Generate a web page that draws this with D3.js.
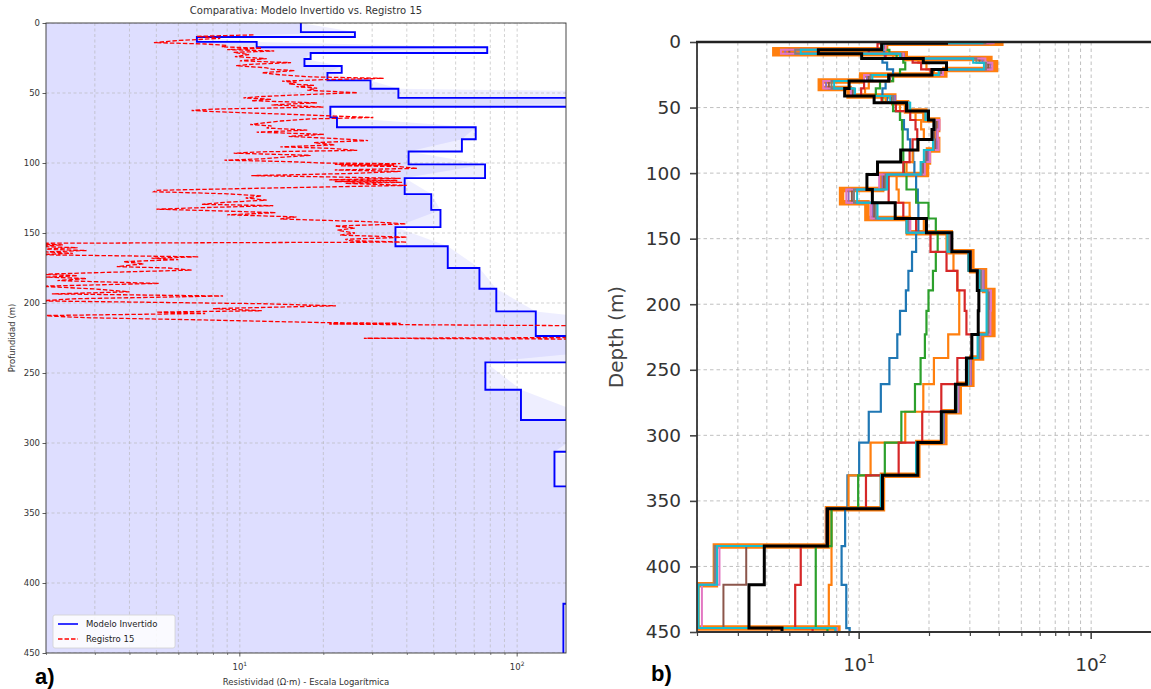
<!DOCTYPE html>
<html>
<head>
<meta charset="utf-8">
<script src="https://cdn.jsdelivr.net/npm/d3@7"></script>
<style>
  body { margin: 0; background: #fff; }
  svg { display: block; }
  text { font-family: "DejaVu Sans", sans-serif; }
</style>
</head>
<body>
<svg id="fig" width="1151" height="689"></svg>
<script>
// ---- panel a: inverted model (layer tops in m, resistivity in ohm-m) ----
var modelTops = [0, 6.5, 10, 13.5, 17.3, 21.4, 25.7, 30.7, 35.6, 41, 47, 53.5, 59.8, 67.4, 74.5, 83, 91.8,
                 101, 110.8, 122.2, 133.5, 145.8, 159.5, 175, 189.8, 206, 223.6, 242.4, 262, 283.6, 306.2, 331, 414.8];
var modelRho = [16.6, 26, 7.0, 11.5, 78, 18.0, 17.1, 23.3, 20.7, 29.6, 37.3, 20000, 21.2, 22.4, 70.9, 63.2, 40.6,
                76.6, 39.3, 49.0, 52.9, 36.4, 56.2, 73.1, 84.1, 116.7, 700, 76.8, 103.2, 200, 136.3, 400, 146.8];
var modelBottom = 450;

// ---- panel a: well log "Registro 15" ----
var regDepth = [8.5, 9.5, 11, 12.5, 14, 15, 16, 17, 18, 19, 20, 21, 22.5, 24, 25.5, 27, 28.3, 29.5, 30.5, 32,
  33, 34, 35.5, 37, 38.5, 39.5, 40.5, 41.5, 42.5, 43.5, 44.5, 45.5, 46.5, 48, 49.8, 51, 52.5, 53.5, 54.5, 55.5,
  57, 58.5, 60, 61.5, 62.5, 63.5, 65, 66.5, 67.5, 68.5, 70, 71.5, 72.5, 73.5, 75, 76.5, 78, 79.5, 81, 82.5,
  84, 85.5, 87, 88.5, 89.5, 91, 92, 93, 94.5, 96, 97, 98, 99, 100, 100.5, 101, 101.5, 102, 102.5, 103.8,
  105, 106, 107.5, 109, 110, 111, 112, 112.5, 113.2, 113.8, 114.5, 116, 118, 119.5, 120.5, 122, 123.5, 125, 126.5, 128,
  129.5, 130.5, 132, 133, 134.5, 135.5, 137, 138.5, 140, 142, 143.5, 145, 146.5, 148, 150, 151.5, 153, 154.5, 155.5, 156.5,
  157.4, 158.5, 159.5, 160.5, 161.5, 162.5, 163.5, 164.5, 165.5, 167, 168, 169, 170.5, 172, 174, 175, 176.5, 178, 179.5, 180.5,
  181.5, 182.5, 184, 186, 188, 190, 192, 193.5, 195, 197, 198.5, 200.5, 202, 204, 205.5, 206.5, 207.5, 209, 210.5, 212,
  214, 214.5, 215, 215.5, 216.5, 224.5, 225.2, 226];
var regRho = [11.2, 7.0, 8.5, 6.0, 4.9, 7.5, 9.0, 8.6, 12.0, 9.0, 13.3, 9.5, 10.8, 9.6, 12.5, 10.0, 15.3, 11.0, 9.7, 12.5,
  13.0, 15.8, 12.0, 14.0, 18.0, 33.0, 20.0, 14.2, 16.0, 15.0, 18.5, 16.0, 19.0, 17.5, 26.6, 18.0, 12.0, 10.3, 13.0, 11.0,
  19.0, 13.0, 20.0, 8.0, 6.7, 8.5, 14.0, 22.0, 30.3, 18.0, 14.0, 12.0, 10.9, 13.0, 12.5, 17.5, 11.5, 20.1, 15.0, 22.0,
  29.0, 18.5, 22.0, 14.0, 21.0, 26.5, 12.0, 9.5, 18.0, 14.0, 12.0, 8.8, 15.0, 20.0, 37.9, 22.0, 36.0, 23.0, 37.0, 43.6,
  22.0, 38.0, 25.0, 11.0, 22.0, 38.0, 21.0, 37.0, 22.0, 38.5, 24.0, 40.0, 12.0, 5.0, 4.9, 9.0, 12.0, 10.5, 12.5, 9.0,
  7.3, 13.2, 7.0, 5.0, 9.5, 13.5, 9.0, 16.0, 14.0, 30.0, 39.7, 22.0, 26.0, 22.5, 26.0, 23.0, 40.0, 24.0, 25.0, 40.0,
  1.5, 2.3, 1.8, 2.6, 1.9, 2.8, 2.0, 2.5, 1.8, 7.1, 4.8, 6.0, 3.8, 4.5, 3.6, 5.5, 6.7, 3.5, 1.9, 2.6,
  2.0, 2.8, 2.2, 5.1, 1.9, 3.0, 4.0, 2.1, 8.7, 2.5, 1.9, 12.0, 22.2, 8.0, 12.0, 5.0, 7.5, 1.9, 2.8, 7.0,
  20.0, 38.0, 21.0, 40.0, 300, 300, 28.0, 300];

// ---- panel b: layered profiles ----
var bBounds = [0, 1, 6, 9, 12.5, 15.8, 20.9, 25.2, 29.8, 35.4, 41.2, 46.3, 52.7, 59.5, 66.7, 74.3, 82.4, 91.6,
               101, 112.5, 122.6, 134.6, 145.5, 160, 174.5, 189.5, 205, 223, 241, 261, 282, 305.5, 330.5, 356, 384.5, 414, 447, 450];
var profWide = [40.8, 13, 4.33, 15.8, 36.6, 38.7, 23.4, 10.25, 6.8, 9.05, 14.1, 16, 19.2, 21.8, 21.4, 21.8, 19.9, 19.5,
                12.5, 8.4, 10.8, 16.3, 24.7, 30.6, 34.7, 37.7, 37.7, 33.7, 30.6, 27.0, 23.4, 17.9, 12.6, 7.3, 2.4, 2.0, 8.1];
var profBlue = [12.5, 12.5, 12.8, 12.9, 12.6, 13.2, 14.0, 13.6, 13.0, 12.6, 13.2, 14.4, 15.0, 15.6, 16.2, 16.6, 17.1, 17.3,
                17.6, 17.9, 18.0, 18.0, 17.6, 16.9, 16.3, 15.9, 15.0, 14.6, 13.5, 12.4, 11.0, 10.0, 8.9, 8.7, 8.4, 8.8, 9.1];
var profOrange = [15, 13, 12, 14, 18, 19.5, 21, 14, 11, 10.6, 13, 15, 17.5, 18.5, 19, 18, 17, 16,
                  14.5, 14.8, 16.5, 19, 23.8, 25.5, 26.5, 27.0, 27.0, 24.2, 21.0, 18.9, 15.8, 11.2, 9.0, 7.6, 7.6, 7.4, 8.1];
var profGreen = [12.5, 12.5, 13.5, 14.5, 15.5, 15.8, 15.0, 14.0, 12.3, 11.8, 12.6, 14.0, 15.0, 15.3, 15.4, 15.4, 15.5, 15.6,
                 16.0, 17.6, 19.9, 21.4, 21.8, 21.4, 20.8, 19.9, 19.5, 19.2, 18.4, 17.4, 15.2, 12.9, 9.9, 7.6, 6.5, 6.5, 7.3];
var profRed = [14.0, 12.0, 11.0, 13.0, 17.0, 18.5, 20.3, 13.5, 10.5, 10.2, 12.5, 14.4, 16.6, 17.5, 17.8, 17.0, 16.5, 15.5,
               13.4, 13.4, 15.5, 17.6, 20.3, 23.8, 26.5, 28.5, 29.0, 30.6, 26.5, 22.6, 18.7, 14.8, 10.7, 7.3, 5.6, 5.3, 6.3];
var profPurple = [37, 12.9, 4.8, 15.6, 34, 36.8, 22.8, 10.8, 7.2, 9.3, 14.3, 16.3, 19.6, 22.0, 21.6, 21.6, 19.8, 19.0,
                  12.6, 9.0, 11.4, 16.4, 24.6, 30.3, 34.4, 36.6, 36.6, 33.3, 30.3, 26.8, 23.2, 17.8, 12.5, 7.3, 2.42, 2.02, 8.0];
var profBrown = [36, 12.8, 5.0, 15.0, 33, 36.0, 22.5, 11.0, 7.4, 9.4, 13.8, 16.5, 19.8, 21.5, 21.0, 21.2, 19.5, 18.8,
                 12.8, 9.3, 11.6, 16.0, 24.2, 29.5, 33.2, 36.0, 36.2, 32.5, 29.6, 26.3, 22.8, 17.6, 12.4, 7.2, 3.26, 2.6, 4.2];
var profPink = [38, 13, 4.6, 15.5, 35, 37.5, 23, 10.5, 7.0, 9.2, 14.0, 16.2, 19.5, 22.2, 21.8, 22.0, 20.2, 19.2,
                12.2, 8.8, 11.2, 16.6, 24.5, 30.0, 34.0, 37.0, 36.8, 33.0, 30.0, 26.6, 23.0, 17.8, 12.5, 7.3, 2.5, 2.1, 8.0];
var profGray = [35, 12.7, 5.3, 15.2, 32, 35.2, 22.2, 11.2, 7.6, 9.5, 14.0, 16.4, 19.4, 21.2, 20.8, 21.0, 19.3, 18.6,
                13.0, 9.5, 11.8, 16.2, 24.4, 29.8, 33.6, 35.8, 35.8, 32.8, 29.8, 26.4, 23.0, 17.7, 12.5, 7.3, 2.38, 2.0, 7.9];
var profCyan = [34, 12.6, 5.6, 15.0, 31, 34.5, 22.0, 11.4, 7.8, 9.6, 13.6, 16.6, 19.3, 21.0, 20.6, 20.8, 19.0, 18.4,
                13.2, 9.8, 12.0, 16.0, 24.0, 29.6, 33.0, 35.4, 35.4, 32.4, 29.4, 26.2, 22.8, 17.6, 12.4, 7.3, 2.44, 2.03, 7.9];
var profBlack = [23.8, 12.5, 6.67, 10.25, 18.9, 23.8, 20.6, 13.4, 9.05, 8.66, 11.6, 16.0, 19.9, 21.0, 20.6, 17.9, 15.1, 12.0,
                 10.8, 11.4, 14.3, 19.5, 25.1, 30.1, 32.3, 32.8, 32.6, 30.6, 29.0, 26.0, 22.6, 17.9, 12.6, 7.3, 3.9, 3.35, 4.65];

var depthTicks = [0, 50, 100, 150, 200, 250, 300, 350, 400, 450];
var minorRho = [2, 3, 4, 5, 6, 7, 8, 9, 20, 30, 40, 50, 60, 70, 80, 90, 200];
var majorRho = [10, 100];

var svg = d3.select("#fig");

// layer tops + values -> step polyline points [rho, depth]
function stepPoints(tops, bottom, vals) {
  var pts = [];
  vals.forEach(function(v, i) {
    var b = i + 1 < tops.length ? tops[i + 1] : bottom;
    pts.push([v, tops[i]], [v, b]);
  });
  return pts;
}

function supLabel(g, x, y, exp, size) {
  var t = g.append("text").attr("x", x).attr("y", y).attr("text-anchor", "middle")
    .style("font-size", size + "px").style("fill", "#333");
  t.append("tspan").text("10");
  t.append("tspan").attr("dy", -size * 0.42).style("font-size", (size * 0.7) + "px").text(exp);
}

// ================= panel a =================
var A = {l: 46, r: 566, t: 23, b: 653};
var xA = d3.scaleLog().domain([2, 150]).range([A.l, A.r]);
var yA = d3.scaleLinear().domain([0, 450]).range([A.t, A.b]);
var gA = svg.append("g");

svg.append("clipPath").attr("id", "clipA").append("rect")
  .attr("x", A.l).attr("y", A.t).attr("width", A.r - A.l).attr("height", A.b - A.t);

var plotA = gA.append("g").attr("clip-path", "url(#clipA)");

// uncertainty shading: step model + linear between layer tops
var stepA = stepPoints(modelTops, modelBottom, modelRho);
var linA = modelTops.map(function(t, i) { return [modelRho[i], t]; });
linA.push([modelRho[modelRho.length - 1], modelBottom]);
var areaA = d3.area().y(function(d) { return yA(d[1]); }).x0(A.l).x1(function(d) { return xA(d[0]); });
plotA.append("path").attr("d", areaA(stepA)).attr("fill", "#0000ff").attr("fill-opacity", 0.065);
plotA.append("path").attr("d", areaA(linA)).attr("fill", "#0000ff").attr("fill-opacity", 0.065);

// grid
var gridA = plotA.append("g").attr("stroke", "#b4b4b4").attr("stroke-width", 0.8)
  .attr("stroke-dasharray", "3,2.5").attr("stroke-opacity", 0.75);
minorRho.concat(majorRho).filter(function(v) { return v > 2 && v < 150; }).forEach(function(v) {
  gridA.append("line").attr("x1", xA(v)).attr("x2", xA(v)).attr("y1", A.t).attr("y2", A.b);
});
depthTicks.forEach(function(d) {
  gridA.append("line").attr("x1", A.l).attr("x2", A.r).attr("y1", yA(d)).attr("y2", yA(d));
});

var lineA = d3.line().x(function(d) { return xA(d[0]); }).y(function(d) { return yA(d[1]); });
plotA.append("path").attr("d", lineA(stepA)).attr("fill", "none")
  .attr("stroke", "#0000ff").attr("stroke-width", 1.9);
plotA.append("path").attr("d", lineA(regDepth.map(function(d, i) { return [regRho[i], d]; })))
  .attr("fill", "none").attr("stroke", "#ff0000").attr("stroke-width", 1.3)
  .attr("stroke-dasharray", "4.5,2");

// axes a
var axA = gA.append("g").attr("transform", "translate(" + A.l + ",0)")
  .call(d3.axisLeft(yA).tickValues(depthTicks).tickSize(3.5).tickPadding(2.5));
axA.select(".domain").remove();
axA.selectAll("text").style("font-size", "8.5px").style("fill", "#333");
axA.selectAll("line").attr("stroke", "#333").attr("stroke-width", 0.8);

var axAx = gA.append("g").attr("transform", "translate(0," + A.b + ")")
  .call(d3.axisBottom(xA).tickValues(minorRho.filter(function(v) { return v < 150; })).tickSize(2).tickFormat(""));
axAx.select(".domain").remove();
axAx.selectAll("line").attr("stroke", "#333").attr("stroke-width", 0.6);
majorRho.forEach(function(v, i) {
  gA.append("line").attr("x1", xA(v)).attr("x2", xA(v)).attr("y1", A.b).attr("y2", A.b + 3.5)
    .attr("stroke", "#333").attr("stroke-width", 0.8);
  supLabel(gA, xA(v), 670, String(i + 1), 8.5);
});

gA.append("rect").attr("x", A.l).attr("y", A.t).attr("width", A.r - A.l).attr("height", A.b - A.t)
  .attr("fill", "none").attr("stroke", "#333").attr("stroke-width", 0.9);

gA.append("text").attr("x", (A.l + A.r) / 2).attr("y", 14).attr("text-anchor", "middle")
  .style("font-size", "10px").style("fill", "#333")
  .text("Comparativa: Modelo Invertido vs. Registro 15");
gA.append("text").attr("x", (A.l + A.r) / 2).attr("y", 685).attr("text-anchor", "middle")
  .style("font-size", "8.5px").style("fill", "#333")
  .text("Resistividad (Ω·m) - Escala Logarítmica");
gA.append("text").attr("transform", "translate(15," + ((A.t + A.b) / 2) + ") rotate(-90)")
  .attr("text-anchor", "middle").style("font-size", "8.5px").style("fill", "#333")
  .text("Profundidad (m)");

// legend
var leg = gA.append("g");
leg.append("rect").attr("x", 53).attr("y", 615).attr("width", 122).attr("height", 33).attr("rx", 2)
  .attr("fill", "#fff").attr("fill-opacity", 0.85).attr("stroke", "#d0d0d0").attr("stroke-width", 0.8);
leg.append("line").attr("x1", 58).attr("x2", 78).attr("y1", 624).attr("y2", 624)
  .attr("stroke", "#0000ff").attr("stroke-width", 1.6);
leg.append("line").attr("x1", 58).attr("x2", 78).attr("y1", 639).attr("y2", 639)
  .attr("stroke", "#ff0000").attr("stroke-width", 1.3).attr("stroke-dasharray", "4.5,2");
leg.append("text").attr("x", 86).attr("y", 627).style("font-size", "8.5px").style("fill", "#222").text("Modelo Invertido");
leg.append("text").attr("x", 86).attr("y", 642).style("font-size", "8.5px").style("fill", "#222").text("Registro 15");

svg.append("text").attr("x", 35).attr("y", 684).style("font-family", "'Liberation Sans', Arial, sans-serif")
  .style("font-weight", "bold").style("font-size", "22px").style("fill", "#000").text("a)");

// ================= panel b =================
var B = {l: 697, r: 1161, t: 42, b: 632};
var xB = d3.scaleLog().domain([2, 200]).range([B.l, B.r]);
var yB = d3.scaleLinear().domain([0, 450]).range([B.t, B.b]);
var gB = svg.append("g");

svg.append("clipPath").attr("id", "clipB").append("rect")
  .attr("x", B.l).attr("y", B.t).attr("width", B.r - B.l).attr("height", B.b - B.t);
var plotB = gB.append("g").attr("clip-path", "url(#clipB)");

var gridB = plotB.append("g").attr("stroke", "#b0b0b0").attr("stroke-width", 1)
  .attr("stroke-dasharray", "3.5,3").attr("stroke-opacity", 0.8);
minorRho.concat(majorRho).forEach(function(v) {
  gridB.append("line").attr("x1", xB(v)).attr("x2", xB(v)).attr("y1", B.t).attr("y2", B.b);
});
depthTicks.forEach(function(d) {
  gridB.append("line").attr("x1", B.l).attr("x2", B.r).attr("y1", yB(d)).attr("y2", yB(d));
});

var bTops = bBounds.slice(0, -1);
var bBottom = bBounds[bBounds.length - 1];
var lineB = d3.line().x(function(d) { return xB(d[0]); }).y(function(d) { return yB(d[1]); });
var profiles = [
  {v: profWide, c: "#ff7f0e", w: 5.5},
  {v: profBlue, c: "#1f77b4", w: 2.2},
  {v: profOrange, c: "#ff7f0e", w: 2.2},
  {v: profGreen, c: "#2ca02c", w: 2.2},
  {v: profRed, c: "#d62728", w: 2.2},
  {v: profPurple, c: "#9467bd", w: 2.0},
  {v: profBrown, c: "#8c564b", w: 2.0},
  {v: profPink, c: "#e377c2", w: 2.0},
  {v: profGray, c: "#7f7f7f", w: 2.0},
  {v: profCyan, c: "#17becf", w: 2.0},
  {v: profBlack, c: "#000000", w: 3.0}
];
profiles.forEach(function(p) {
  plotB.append("path").attr("d", lineB(stepPoints(bTops, bBottom, p.v)))
    .attr("fill", "none").attr("stroke", p.c).attr("stroke-width", p.w).attr("stroke-linejoin", "miter");
});

var axB = gB.append("g").attr("transform", "translate(" + B.l + ",0)")
  .call(d3.axisLeft(yB).tickValues(depthTicks).tickSize(7).tickPadding(9));
axB.select(".domain").remove();
axB.selectAll("text").style("font-size", "18.5px").style("fill", "#333");
axB.selectAll("line").attr("stroke", "#444").attr("stroke-width", 1.6);

var axBx = gB.append("g").attr("transform", "translate(0," + B.b + ")")
  .call(d3.axisBottom(xB).tickValues(minorRho).tickSize(4).tickFormat(""));
axBx.select(".domain").remove();
axBx.selectAll("line").attr("stroke", "#444").attr("stroke-width", 1.2);
majorRho.forEach(function(v, i) {
  gB.append("line").attr("x1", xB(v)).attr("x2", xB(v)).attr("y1", B.b).attr("y2", B.b + 7)
    .attr("stroke", "#444").attr("stroke-width", 1.6);
  supLabel(gB, xB(v), 671, String(i + 1), 18.5);
});

gB.append("line").attr("x1", B.l).attr("x2", B.l).attr("y1", B.t).attr("y2", B.b)
  .attr("stroke", "#333").attr("stroke-width", 1.8);
gB.append("line").attr("x1", B.l).attr("x2", B.r).attr("y1", B.b).attr("y2", B.b)
  .attr("stroke", "#333").attr("stroke-width", 1.8);
gB.append("line").attr("x1", B.l - 1).attr("x2", B.r).attr("y1", B.t).attr("y2", B.t)
  .attr("stroke", "#222").attr("stroke-width", 2.4);

gB.append("text").attr("transform", "translate(623," + ((B.t + B.b) / 2) + ") rotate(-90)")
  .attr("text-anchor", "middle").style("font-size", "20px").style("fill", "#444").text("Depth (m)");

svg.append("text").attr("x", 651).attr("y", 681).style("font-family", "'Liberation Sans', Arial, sans-serif")
  .style("font-weight", "bold").style("font-size", "22px").style("fill", "#000").text("b)");
</script>
</body>
</html>
